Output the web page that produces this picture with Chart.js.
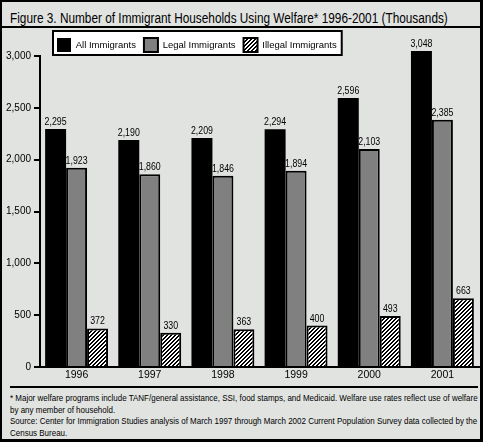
<!DOCTYPE html>
<html>
<head>
<meta charset="utf-8">
<script src="https://cdn.jsdelivr.net/npm/chart.js@4.4.0/dist/chart.umd.min.js"></script>
<style>
  html, body { margin: 0; padding: 0; background: #fff; }
  #frame {
    position: absolute; left: 0; top: 0;
    width: 478px; height: 437px;
    border: 2px solid #000; border-right-width: 3px; border-bottom-width: 3px;
    background: #e0e3e0;
  }
  .txt { position: absolute; white-space: nowrap; color: #000;
         font-family: "Liberation Sans", Arial, sans-serif;
         transform-origin: 0 0; }
  #title { left: 10px; top: 10px; font-size: 14px; line-height: 16px; }
  .rule { position: absolute; background: #000; height: 2px; }
  #notes { position: absolute; left: 10px; top: 392px; }
  #notes .txt { position: relative; display: block; font-size: 9.5px; line-height: 11.6px; }
  #wrap { position: absolute; left: 0; top: 0; width: 491px; height: 385px; }
</style>
</head>
<body>
<div id="frame"></div>
<div id="title" class="txt">Figure 3. Number of Immigrant Households Using Welfare* 1996-2001 (Thousands)</div>
<div class="rule" style="left:2px; top:26px; width:478px;"></div>
<div class="rule" style="left:10px; top:386px; width:468px;"></div>
<div id="notes">
  <span class="txt" id="n1">* Major welfare programs include TANF/general assistance, SSI, food stamps, and Medicaid. Welfare use rates reflect use of welfare</span>
  <span class="txt" id="n2">by any member of household.</span>
  <span class="txt" id="n3">Source: Center for Immigration Studies analysis of March 1997 through March 2002 Current Population Survey data collected by the</span>
  <span class="txt" id="n4">Census Bureau.</span>
</div>
<div id="wrap"><canvas id="chart" width="491" height="385"></canvas></div>

<script>
const years = ['1996', '1997', '1998', '1999', '2000', '2001'];
const allImmigrants = [2295, 2190, 2209, 2294, 2596, 3048];
const legalImmigrants = [1923, 1860, 1846, 1894, 2103, 2385];
const illegalImmigrants = [372, 330, 363, 400, 493, 663];
const seriesNames = ['All Immigrants', 'Legal Immigrants', 'Illegal Immigrants'];
const yTicks = [0, 500, 1000, 1500, 2000, 2500, 3000];

const FONT = '"Liberation Sans", Arial, sans-serif';

// squeeze the long text lines to the widths used in the original
function fitWidth(el, w) {
  const s = w / el.scrollWidth;
  el.style.transform = 'scaleX(' + s + ')';
  return s;
}
fitWidth(document.getElementById('title'), 438);
const s1 = fitWidth(document.getElementById('n1'), 468);
document.getElementById('n2').style.transform = 'scaleX(' + s1 + ')';
const s3 = fitWidth(document.getElementById('n3'), 468);
document.getElementById('n4').style.transform = 'scaleX(' + s3 + ')';

// crisp 45 degree stripes, 2px white / 2px black per row
function hatch() {
  const c = document.createElement('canvas');
  c.width = 4; c.height = 4;
  const g = c.getContext('2d');
  g.fillStyle = '#000';
  g.fillRect(0, 0, 4, 4);
  g.fillStyle = '#fff';
  for (let r = 0; r < 4; r++) {
    g.fillRect((3 - r + 4) % 4, r, 1, 1);
    g.fillRect((4 - r) % 4, r, 1, 1);
  }
  return g.createPattern(c, 'repeat');
}

// numbers above bars, in a narrowed face like the original
const valueLabels = {
  id: 'valueLabels',
  afterDatasetsDraw(chart) {
    const ctx = chart.ctx;
    chart.data.datasets.forEach((ds, i) => {
      chart.getDatasetMeta(i).data.forEach((bar, j) => {
        ctx.save();
        ctx.font = '11px ' + FONT;
        ctx.fillStyle = '#000';
        ctx.textAlign = 'center';
        ctx.textBaseline = 'alphabetic';
        ctx.translate(bar.x, bar.y - 4);
        ctx.scale(0.8, 1);
        ctx.fillText(ds.data[j].toLocaleString('en-US'), 0, 0);
        ctx.restore();
      });
    });
  }
};

// move the legend a little and put a framed white box behind it
const legendBox = {
  id: 'legendBox',
  afterLayout(chart) {
    const lg = chart.legend;
    lg.left += 9; lg.right += 9;
    lg.top += 6; lg.bottom += 6;
  },
  beforeDraw(chart) {
    const hb = chart.legend.legendHitBoxes;
    if (!hb || !hb.length) return;
    const last = hb[hb.length - 1];
    const x0 = hb[0].left - 4, y0 = hb[0].top - 7;
    const x1 = last.left + last.width + 5, y1 = y0 + 24;
    const ctx = chart.ctx;
    ctx.save();
    ctx.fillStyle = '#fff';
    ctx.fillRect(x0, y0, x1 - x0, y1 - y0);
    ctx.lineWidth = 2;
    ctx.strokeStyle = '#000';
    ctx.strokeRect(x0, y0, x1 - x0, y1 - y0);
    ctx.restore();
  }
};

Chart.defaults.font.family = FONT;
Chart.defaults.color = '#000';

new Chart(document.getElementById('chart'), {
  type: 'bar',
  data: {
    labels: years,
    datasets: [
      { label: seriesNames[0], data: allImmigrants, backgroundColor: '#000', borderColor: '#000', borderWidth: 0, clip: false },
      { label: seriesNames[1], data: legalImmigrants, backgroundColor: '#808080', borderColor: '#000', borderWidth: 2, clip: false },
      { label: seriesNames[2], data: illegalImmigrants, backgroundColor: hatch(), borderColor: '#000', borderWidth: 2, clip: false }
    ]
  },
  options: {
    responsive: false,
    animation: false,
    devicePixelRatio: 1,
    layout: { padding: { top: 24, left: 0, right: 12, bottom: 0 } },
    datasets: { bar: { categoryPercentage: 0.86, barPercentage: 1.0 } },
    plugins: {
      title: { display: false },
      tooltip: { enabled: false },
      legend: {
        position: 'top',
        align: 'start',
        fullSize: false,
        labels: { boxWidth: 14, boxHeight: 14, padding: 8, color: '#000', font: { size: 9.5 } }
      }
    },
    scales: {
      x: {
        afterFit(s) { s.height = 18; },
        border: { display: true, color: '#000', width: 2 },
        grid: { display: false, drawTicks: false, tickLength: 0 },
        ticks: { color: '#000', font: { size: 10.5 }, padding: 2, maxRotation: 0 }
      },
      y: {
        min: 0,
        max: 3000,
        afterFit(s) { s.width = 40; },
        afterBuildTicks(s) { s.ticks = yTicks.map(v => ({ value: v })); },
        border: { display: true, color: '#000', width: 2 },
        grid: { display: true, drawOnChartArea: false, drawTicks: true, tickLength: 6, color: '#000', lineWidth: 2 },
        ticks: { color: '#000', font: { size: 10 }, padding: 3, callback: v => v.toLocaleString('en-US') }
      }
    }
  },
  plugins: [valueLabels, legendBox]
});
</script>
</body>
</html>
